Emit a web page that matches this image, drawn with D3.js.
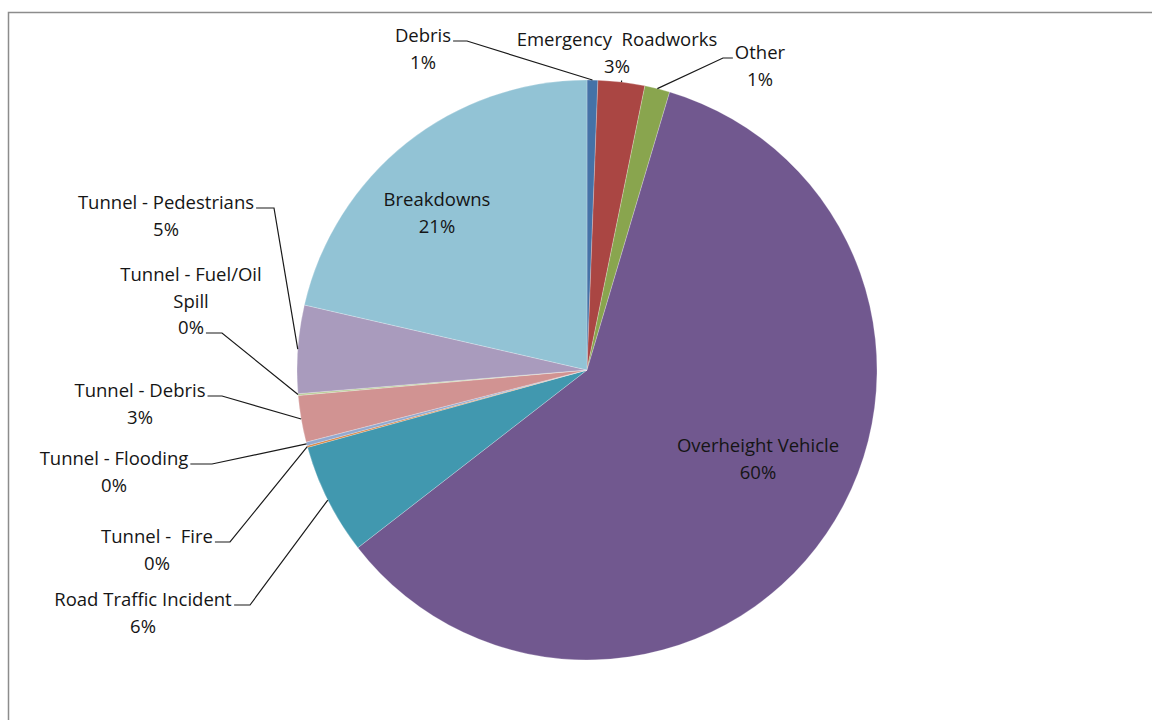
<!DOCTYPE html>
<html>
<head>
<meta charset="utf-8">
<script src="https://cdn.jsdelivr.net/npm/d3@7"></script>
<style>
  html, body { margin: 0; padding: 0; background: #fff; }
  svg { display: block; }
  text { font-family: "Open Sans", Lato, sans-serif; font-size: 18.5px; fill: #151515; white-space: pre; }
</style>
</head>
<body>
<svg id="chart" width="1152" height="720"></svg>
<script>
// Incident causes, clockwise from 12 o'clock (share of all incidents, %)
const categories = [
  "Debris", "Emergency  Roadworks", "Other", "Overheight Vehicle",
  "Road Traffic Incident", "Tunnel -  Fire", "Tunnel - Flooding",
  "Tunnel - Debris", "Tunnel - Fuel/Oil Spill", "Tunnel - Pedestrians", "Breakdowns"
];
const shares = [0.6, 2.6, 1.4, 59.9, 6.2, 0.1, 0.2, 2.6, 0.1, 4.9, 21.4];
const colors = [
  "#4572A7", "#AA4643", "#89A54E", "#71588F", "#4198AF", "#DB843D",
  "#93A9CF", "#D19392", "#B9CD96", "#A99BBD", "#92C3D5"
];

// Label placement: text lines, baseline of the first line, and the
// side the leader leaves from ("none" labels sit on the slice itself)
const labelLayout = {
  "Debris":                 { x: 423, y: 42, lines: ["Debris"], leader: "right", hook: 467 },
  "Emergency  Roadworks":   { x: 617, y: 46, lines: ["Emergency  Roadworks"], leader: "below" },
  "Other":                  { x: 760, y: 59, lines: ["Other"], leader: "left", hook: 723 },
  "Overheight Vehicle":     { x: 758, y: 452, lines: ["Overheight Vehicle"], leader: "none" },
  "Road Traffic Incident":  { x: 143, y: 606, lines: ["Road Traffic Incident"], leader: "right", hook: 250 },
  "Tunnel -  Fire":         { x: 157, y: 543, lines: ["Tunnel -  Fire"], leader: "right", hook: 230 },
  "Tunnel - Flooding":      { x: 114, y: 465, lines: ["Tunnel - Flooding"], leader: "right", hook: 212 },
  "Tunnel - Debris":        { x: 140, y: 397, lines: ["Tunnel - Debris"], leader: "right", hook: 222 },
  "Tunnel - Fuel/Oil Spill":{ x: 191, y: 281, lines: ["Tunnel - Fuel/Oil", "Spill"], leader: "pct", hook: 222 },
  "Tunnel - Pedestrians":   { x: 166, y: 209, lines: ["Tunnel - Pedestrians"], leader: "right", hook: 274 },
  "Breakdowns":             { x: 437, y: 206, lines: ["Breakdowns"], leader: "none" }
};

const svg = d3.select("#chart");
const cx = 587, cy = 370, radius = 290;
const lineH = 26.5;

// Chart frame
svg.append("path")
  .attr("d", "M8.5,720 V12.5 H1152")
  .attr("fill", "none")
  .attr("stroke", "#8c8c8c")
  .attr("stroke-width", 1.5);

const rows = categories.map((c, i) => ({ name: c, value: shares[i], color: colors[i] }));

const pie = d3.pie().value(d => d.value).sort(null).startAngle(0).endAngle(2 * Math.PI);
const arcs = pie(rows);
const arc = d3.arc().innerRadius(0).outerRadius(radius);

const g = svg.append("g").attr("transform", `translate(${cx},${cy})`);
g.selectAll("path.slice")
  .data(arcs)
  .join("path")
  .attr("class", "slice")
  .attr("d", arc)
  .attr("fill", d => d.data.color)
  .attr("stroke", "rgba(255,255,255,0.4)")
  .attr("stroke-width", 0.6);

const pctFmt = v => Math.round(v) + "%";

// Leader lines run from the label to the rim at each slice's mid-angle
const rim = d => {
  const a = (d.startAngle + d.endAngle) / 2;
  return [cx + radius * Math.sin(a), cy - radius * Math.cos(a)];
};

const labels = svg.append("g");
arcs.forEach(d => {
  const L = labelLayout[d.data.name];
  const t = labels.append("text").attr("text-anchor", "middle");
  L.lines.forEach((ln, k) => {
    t.append("tspan").attr("x", L.x).attr("y", L.y + k * lineH).text(ln);
  });
  const pctY = L.y + L.lines.length * lineH;
  const pt = labels.append("text").attr("text-anchor", "middle")
    .attr("x", L.x).attr("y", pctY).text(pctFmt(d.data.value));

  if (L.leader === "none") return;
  const [ex, ey] = rim(d);
  let pts;
  if (L.leader === "below") {
    pts = [[ex, pctY + 8], [ex, ey]];
  } else {
    const node = (L.leader === "pct" ? pt : t).node();
    const bb = node.getBBox();
    const ly = (L.leader === "pct" ? pctY : L.y) - 1;
    if (L.leader === "left") {
      pts = [[bb.x - 2, ly], [L.hook, ly], [ex, ey]];
    } else {
      pts = [[bb.x + bb.width + 2, ly], [L.hook, ly], [ex, ey]];
    }
  }
  labels.append("path")
    .attr("d", d3.line()(pts))
    .attr("fill", "none")
    .attr("stroke", "#1a1a1a")
    .attr("stroke-width", 1.2);
});
</script>
</body>
</html>
